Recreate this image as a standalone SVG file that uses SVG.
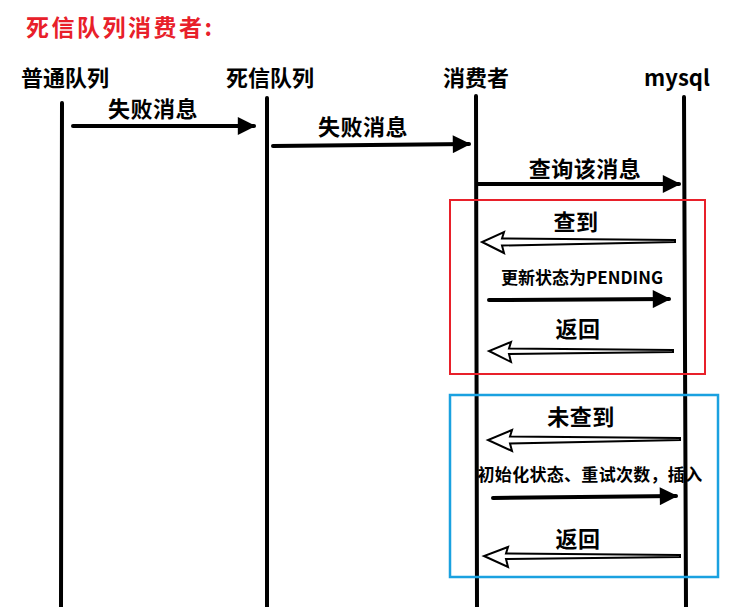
<svg xmlns="http://www.w3.org/2000/svg" width="753" height="607" viewBox="0 0 753 607">
<style>
text{font-family:"Noto Sans CJK SC","Liberation Sans",sans-serif;font-weight:bold;fill:#000}
.h{font-size:22px;text-anchor:middle}
.l{font-size:22px;text-anchor:middle;letter-spacing:0.5px}
.s{font-size:17px;text-anchor:middle}
.life{stroke:#000;stroke-width:4;stroke-linecap:round}
.solid{stroke:#000;stroke-width:4;stroke-linecap:round;fill:none}
.hollow{fill:#fff;stroke:#000;stroke-width:2;stroke-linejoin:miter}
</style>
<defs>
<marker id="ah" viewBox="0 0 10 10" refX="9" refY="5" markerWidth="5" markerHeight="4.5" orient="auto" markerUnits="strokeWidth">
<path d="M0,0 L10,5 L0,10 z" fill="#000"/>
</marker>
</defs>
<rect width="753" height="607" fill="#fff"/>
<text x="26" y="36" style="font-size:23px;letter-spacing:2.5px;fill:#e8202a">死信队列消费者:</text>

<g id="n-normal"><text class="h" x="65" y="86">普通队列</text><line class="life" x1="62" y1="103" x2="61" y2="607"/></g>
<g id="n-dlq"><text class="h" x="270" y="86">死信队列</text><line class="life" x1="267" y1="98" x2="267" y2="607"/></g>
<g id="n-consumer"><text class="h" x="476" y="86">消费者</text><line class="life" x1="476" y1="96" x2="477" y2="607"/></g>
<g id="n-mysql"><text class="h" x="677" y="86">mysql</text><line class="life" x1="684" y1="97" x2="686" y2="607"/></g>

<g id="box-found"><rect x="450" y="200" width="255" height="174" fill="none" stroke="#e8202a" stroke-width="2"/></g>
<g id="box-notfound"><rect x="450" y="395" width="268" height="182" fill="none" stroke="#1aa1e0" stroke-width="2.5"/></g>

<g id="connectors">
<line class="solid" x1="73" y1="126" x2="254" y2="126" marker-end="url(#ah)"/>
<text class="l" x="153" y="117">失败消息</text>
<line class="solid" x1="273" y1="146" x2="469" y2="144" marker-end="url(#ah)"/>
<text class="l" x="363" y="135">失败消息</text>
<line class="solid" x1="478" y1="184" x2="679" y2="184" marker-end="url(#ah)"/>
<text class="l" x="585" y="177">查询该消息</text>

<path class="hollow" d="M675,240 L502,238.5 L504,232 L482,242 L504,253 L502,245.5 L675,242 Z"/>
<text class="l" x="576" y="230">查到</text>
<line class="solid" x1="489" y1="300" x2="669" y2="299" marker-end="url(#ah)"/>
<text class="s" x="582" y="284">更新状态为PENDING</text>
<path class="hollow" d="M673,350 L509,348.5 L511,342 L489,351 L511,362 L509,354 L673,352 Z"/>
<text class="l" x="578" y="337">返回</text>

<path class="hollow" d="M680,438 L510,436.5 L512,430 L488,440 L512,451 L510,443.5 L680,440 Z"/>
<text class="l" x="581" y="425">未查到</text>
<line class="solid" x1="493" y1="498" x2="676" y2="496" marker-end="url(#ah)"/>
<text class="s" x="590" y="481" style="letter-spacing:0.3px">初始化状态、重试次数，插入</text>
<path class="hollow" d="M680,555 L506,553.5 L508,547 L484,556 L508,567 L506,559 L680,557 Z"/>
<text class="l" x="578" y="547">返回</text>
</g>
</svg>
